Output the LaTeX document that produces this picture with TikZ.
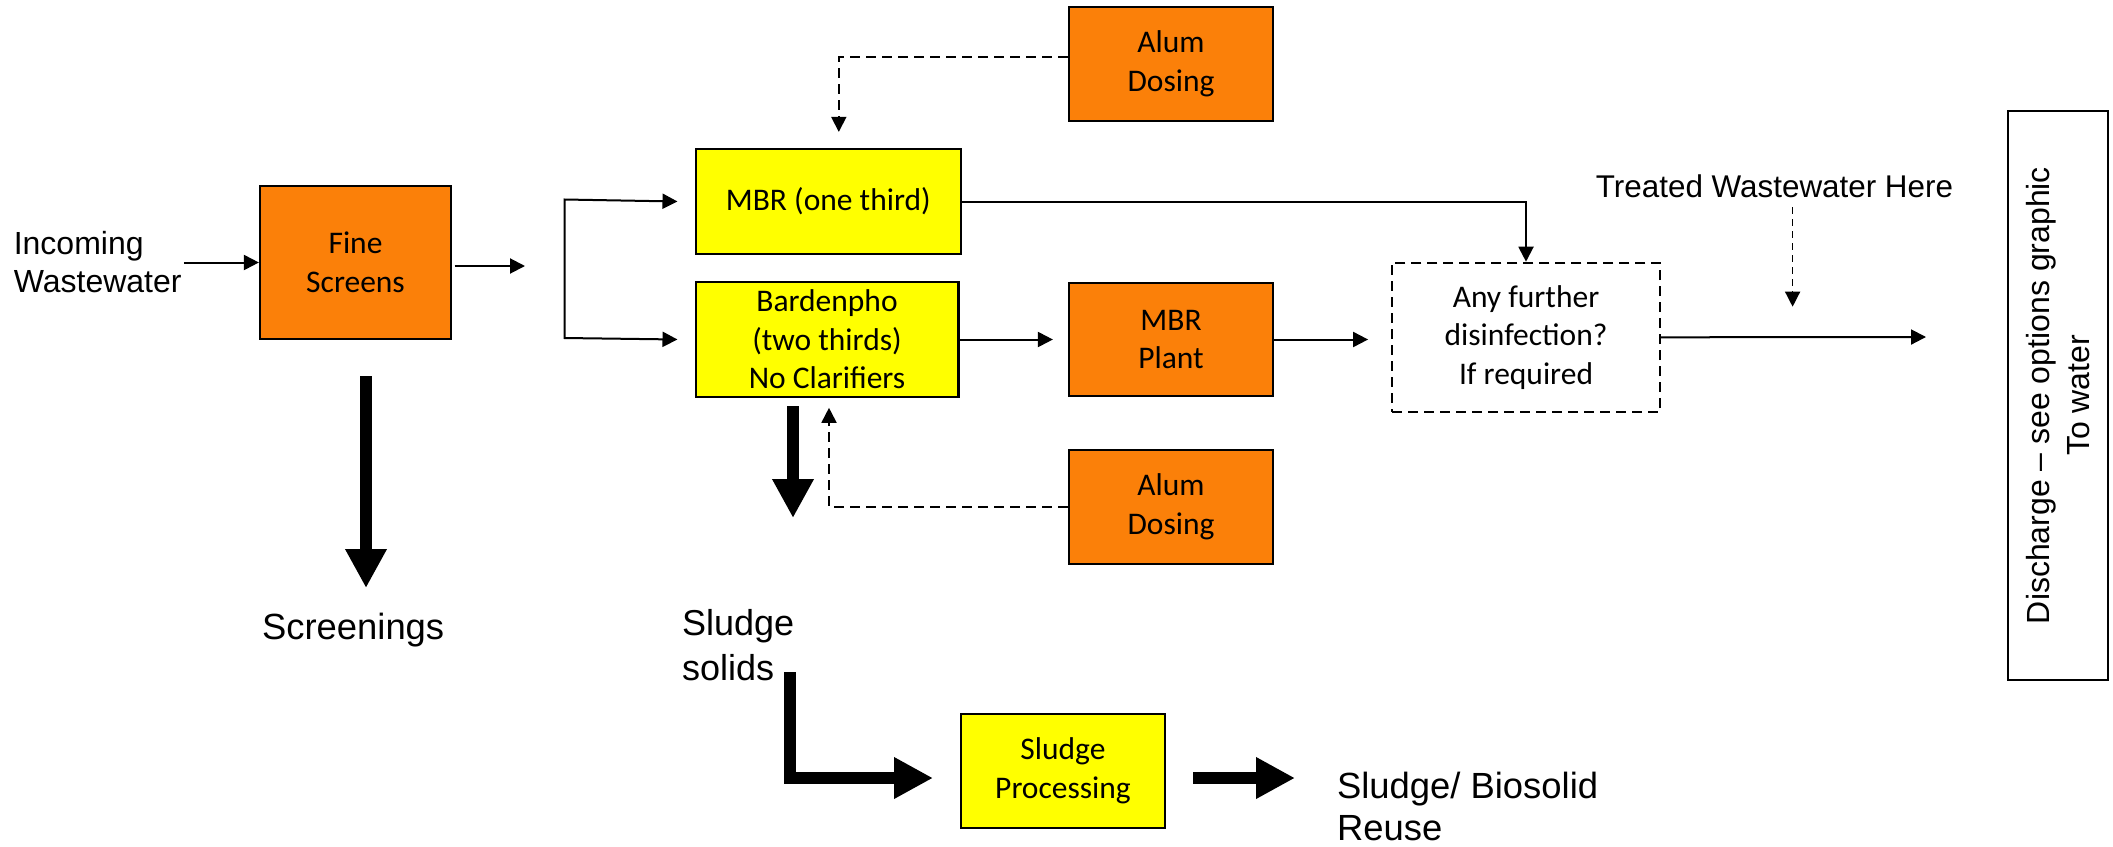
\documentclass[tikz,border=0pt]{standalone}
\usepackage{fontspec}
\setmainfont{Liberation Sans}
\newfontfamily\boxfont{Carlito}
\usetikzlibrary{arrows.meta,calc}
\definecolor{procorange}{RGB}{251,128,9}
\definecolor{procyellow}{RGB}{255,255,0}

\begin{document}
\begin{tikzpicture}[x=0.5pt,y=-0.5pt,
  box/.style={draw=black,line width=1.1pt,inner sep=0pt,align=center,
    font=\boxfont\fontsize{15.75}{19.25}\selectfont},
  orangebox/.style={box,fill=procorange},
  yellowbox/.style={box,fill=procyellow},
  label/.style={inner sep=0pt,align=left,font=\fontsize{16}{19}\selectfont},
  biglabel/.style={inner sep=0pt,align=left,font=\fontsize{18.2}{22}\selectfont},
  flow/.style={line width=1pt,-{Triangle[length=7.5pt,width=7.5pt]}},
  feed/.style={line width=0.9pt,dash pattern=on 5pt off 3pt,
    -{Triangle[length=7.5pt,width=7.5pt]}},
  bulk/.style={line width=6.25pt,line join=miter,
    -{Triangle[length=19.5pt,width=19.5pt]}},
]
\fill[white] (0,0) rectangle (2113,846);
\useasboundingbox (0,0) rectangle (2113,846);

% process units
\node[orangebox,minimum width=95.5pt,minimum height=76.5pt] (fine) at (355.5,262.5) {Fine\\Screens};
\node[yellowbox,minimum width=132.7pt,minimum height=52.5pt] (mbr1) at (828.3,201.5) {MBR (one third)};
\node[yellowbox,minimum width=131.4pt,minimum height=57.2pt] (bard) at (827,339.5) {Bardenpho\\(two thirds)\\No Clarifiers};
\node[orangebox,minimum width=102pt,minimum height=56.7pt] (alum1) at (1171,64) {Alum\\Dosing};
\node[orangebox,minimum width=102pt,minimum height=56.7pt] (mbrp) at (1171,339.5) {MBR\\Plant};
\node[orangebox,minimum width=102pt,minimum height=57pt] (alum2) at (1171,507) {Alum\\Dosing};
\node[box,line width=0.9pt,dash pattern=on 5pt off 3pt,minimum width=134pt,minimum height=74.7pt] (dis) at (1526,337.3) {Any further\\disinfection?\\If required};
\node[yellowbox,minimum width=102pt,minimum height=57pt] (sproc) at (1063,771) {Sludge\\Processing};
\node[draw,line width=1.1pt,minimum width=50pt,minimum height=284.5pt] (disch) at (2058,395.5) {};
\node[rotate=90,align=center,inner sep=0pt,font=\fontsize{16}{20}\selectfont] (dischtext) at (disch.center) {Discharge – see options graphic\\To water};

% free labels (base anchor = baseline of the last line)
\node[label,anchor=base west] (inc) at (13.4,292.7) {Incoming\\Wastewater};
\node[label,anchor=base west,font=\fontsize{15.7}{19}\selectfont] (treated) at (1595.5,197) {Treated Wastewater Here};
\node[biglabel,anchor=base west] (scr) at (261.7,639) {Screenings};
\node[biglabel,anchor=base west,font=\fontsize{18}{22.5}\selectfont] (solids) at (681.7,680) {Sludge\\solids};
\node[biglabel,anchor=base west,font=\fontsize{18.2}{21}\selectfont] (reuse) at (1336.7,840) {Sludge/ Biosolid\\Reuse};

% free ends of connectors
\coordinate (split) at (525,266);
\coordinate (bt) at (564.5,199.5);
\coordinate (bb) at (564.5,338);
\coordinate (outlet) at (1926,337);
\coordinate (tw) at (1792.6,207);
\coordinate (twend) at (1792.6,306.7);
\coordinate (scrtop) at (366,376);
\coordinate (scrtip) at (366,588);
\coordinate (sltop) at (793,406);
\coordinate (sltip) at (793,518);
\coordinate (ltop) at (790,672);
\coordinate (lcorner) at (790,778);
\coordinate (ltip) at (933,778);
\coordinate (spout) at (1193,778);
\coordinate (sptip) at (1295,778);

% main flow
\draw[flow] ([xshift=1pt]inc.east |- fine.west) -- (fine.west);
\draw[flow] ([xshift=1.2pt,yshift=-1.75pt]fine.east) -- (split);
\draw[line width=1pt,{Triangle[length=7.5pt,width=7.5pt]}-{Triangle[length=7.5pt,width=7.5pt]}]
  ([xshift=-8.5pt]mbr1.west) -- (bt) -- (bb) -- ([xshift=-8.5pt]bard.west);
\draw[flow] (mbr1.east) -| (dis.north);
\draw[flow] (bard.east) -- ([xshift=-7.5pt]mbrp.west);
\draw[flow] (mbrp.east) -- ([xshift=-11.5pt]dis.west |- mbrp.east);
\draw[flow] (dis.east) -- (outlet);
\draw[line width=0.7pt,dash pattern=on 3.5pt off 2.5pt,-{Triangle[length=7.5pt,width=7.5pt]}] (tw) -- (twend);

% chemical dosing
\draw[feed] ([yshift=3.35pt]alum1.west) -| ([xshift=5.25pt,yshift=8pt]mbr1.north);
\draw[feed] (alum2.west) -| ([xshift=1pt,yshift=-5pt]bard.south);

% solids streams
\draw[bulk] (scrtop) -- (scrtip);
\draw[bulk] (sltop) -- (sltip);
\draw[bulk] (ltop) -- (lcorner) -- (ltip);
\draw[bulk] (spout) -- (sptip);
\end{tikzpicture}
\end{document}
